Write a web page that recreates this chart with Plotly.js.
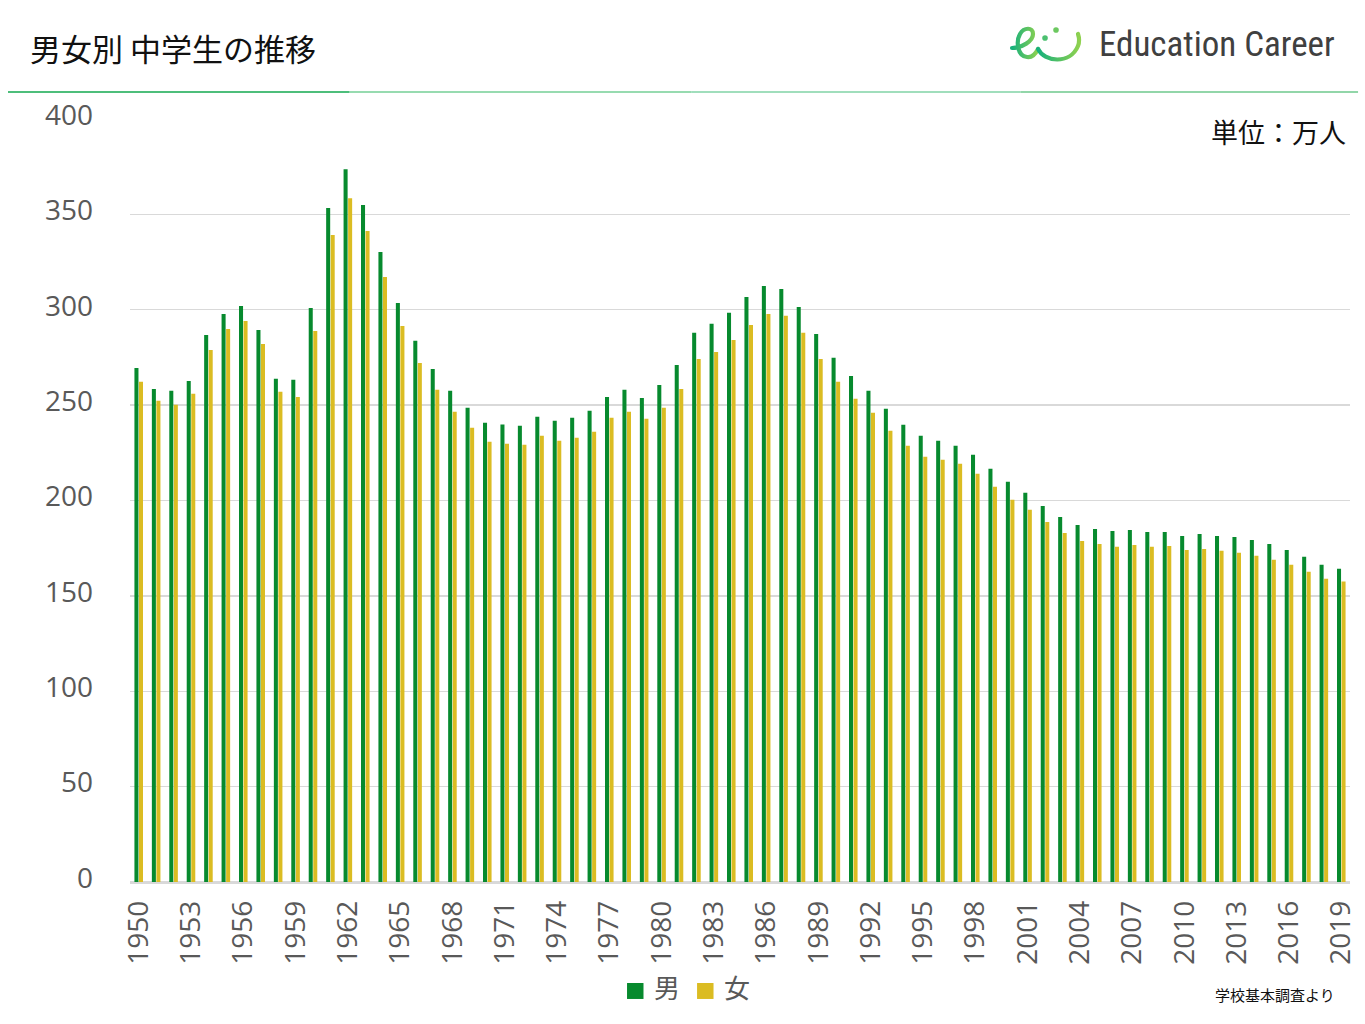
<!DOCTYPE html>
<html>
<head>
<meta charset="utf-8">
<script src="https://cdn.plot.ly/plotly-3.0.1.min.js"></script>
<style>
  html, body { margin: 0; padding: 0; background: #fff; }
  #myDiv { width: 1365px; height: 1024px; }
</style>
</head>
<body>
<div id="myDiv"></div>
<script>
// 文部科学省 学校基本調査 中学生数（万人）
var years = [];
for (var yr = 1950; yr <= 2019; yr++) years.push(String(yr));

var boys = [
  269.5, 258.5, 257.5, 262.7, 286.8, 297.8, 302.0, 289.4, 263.8, 263.3,
  300.9, 353.3, 373.7, 354.9, 330.3, 303.6, 283.7, 269.0, 257.5, 248.6,
  240.8, 239.8, 239.2, 243.9, 241.8, 243.4, 247.0, 254.3, 258.0, 253.8,
  260.6, 271.1, 287.9, 292.6, 298.4, 306.7, 312.5, 310.9, 301.5, 287.3,
  274.8, 265.3, 257.5, 248.1, 239.7, 233.9, 231.3, 228.7, 224.0, 216.7,
  209.8, 204.1, 197.1, 191.3, 187.1, 185.0, 184.0, 184.5, 183.5, 183.5,
  181.4, 182.4, 181.4, 180.9, 179.3, 177.2, 174.1, 170.5, 166.3, 164.2
];
var girls = [
  262.2, 252.3, 250.2, 255.9, 278.9, 289.9, 294.1, 282.1, 257.0, 254.3,
  288.9, 339.2, 358.5, 341.3, 317.2, 291.5, 272.1, 258.0, 246.5, 238.1,
  230.8, 229.8, 229.2, 234.0, 231.3, 232.9, 236.0, 243.4, 246.5, 242.8,
  248.6, 258.5, 274.2, 277.9, 284.2, 292.0, 297.8, 296.8, 287.9, 274.2,
  262.2, 253.3, 246.0, 236.6, 228.7, 222.9, 221.4, 219.3, 214.0, 207.2,
  200.4, 195.2, 188.7, 183.0, 178.8, 177.2, 175.7, 176.7, 175.7, 176.2,
  174.1, 174.6, 173.6, 172.6, 171.0, 168.9, 166.3, 162.7, 159.0, 157.5
];
var tickYears = years.filter(function (y, i) { return i % 3 === 0; });
var yTicks = [0, 50, 100, 150, 200, 250, 300, 350, 400];
var seriesNames = ['男', '女'];
var seriesColors = ['#078a2e', '#dbbc22'];

var jp = '"Noto Sans CJK JP", "Noto Sans", sans-serif';
var num = '"Open Sans", "Noto Sans", sans-serif';

var trace1 = {
  x: years,
  y: boys,
  name: seriesNames[0],
  type: 'bar',
  marker: { color: seriesColors[0] }
};
var trace2 = {
  x: years,
  y: girls,
  name: seriesNames[1],
  type: 'bar',
  marker: { color: seriesColors[1] }
};

// logo mark (inline svg, no network)
var logoSvg =
  '<svg xmlns="http://www.w3.org/2000/svg" width="78" height="40" viewBox="0 0 78 40">' +
  '<defs><linearGradient id="g" x1="0" y1="0" x2="1" y2="0">' +
  '<stop offset="0" stop-color="#16b07c"/><stop offset="1" stop-color="#8fd14f"/></linearGradient></defs>' +
  '<g fill="none" stroke="url(#g)" stroke-width="4.2" stroke-linecap="round">' +
  '<path d="M4 24 C14 24 25 17 25 10 C25 3 16 3 12 10 C8 17 9 32 19 33 C25 34 28 29 30 25"/>' +
  '<path d="M30 25 C36 38 62 41 70 22 C72 17 71 13 70 10"/>' +
  '</g>' +
  '<circle cx="37" cy="14" r="2.8" fill="#4cc070"/><circle cx="48" cy="6" r="2.8" fill="#6cc860"/>' +
  '</svg>';

// legend drawn by hand so the swatches can be as large as the original
var legendX = [0.4074, 0.4648];
var swatches = legendX.map(function (x0, i) {
  return {
    type: 'rect', xref: 'paper', yref: 'paper',
    x0: x0, x1: x0 + 0.0135, y0: -0.1533, y1: -0.1324,
    fillcolor: seriesColors[i], line: { width: 0 }
  };
});
var legendText = legendX.map(function (x0, i) {
  return {
    text: seriesNames[i], xref: 'paper', yref: 'paper',
    x: x0 + 0.0205, y: -0.1365, xanchor: 'left', yanchor: 'middle',
    showarrow: false,
    font: { family: jp, size: 26, color: '#595959' }
  };
});

var layout = {
  width: 1365,
  height: 1024,
  margin: { l: 130, r: 15, t: 119, b: 142 },
  paper_bgcolor: '#ffffff',
  plot_bgcolor: '#ffffff',
  barmode: 'group',
  bargap: 0.48,
  bargroupgap: 0.11,
  showlegend: false,
  xaxis: {
    type: 'category',
    tickmode: 'array',
    tickvals: tickYears,
    ticktext: tickYears,
    tickangle: -90,
    tickfont: { family: num, size: 28, color: '#595959' },
    ticklabelstandoff: 6,
    showgrid: false,
    showline: true,
    linecolor: '#d9d9d9',
    linewidth: 1.5,
    ticks: ''
  },
  yaxis: {
    range: [0, 400],
    tickmode: 'array',
    tickvals: yTicks,
    tickfont: { family: num, size: 28, color: '#595959' },
    ticklabelstandoff: 36,
    ticklabelshift: -4,
    showgrid: true,
    gridcolor: '#d9d9d9',
    gridwidth: 1.3,
    zeroline: true,
    zerolinecolor: '#d9d9d9',
    zerolinewidth: 1.5,
    ticks: ''
  },
  images: [{
    source: 'data:image/svg+xml;charset=utf-8,' + encodeURIComponent(logoSvg),
    xref: 'paper', yref: 'paper',
    x: 0.7197, y: 1.1245,
    sizex: 0.0639, sizey: 0.0524,
    xanchor: 'left', yanchor: 'top',
    sizing: 'stretch',
    layer: 'above'
  }],
  shapes: [
    { type: 'line', xref: 'paper', yref: 'paper', x0: -0.1, x1: 0.18, y0: 1.0354, y1: 1.0354, line: { color: '#12a84f', width: 1.5 } },
    { type: 'line', xref: 'paper', yref: 'paper', x0: 0.18, x1: 0.46, y0: 1.0354, y1: 1.0354, line: { color: '#74cf96', width: 1.5 } },
    { type: 'line', xref: 'paper', yref: 'paper', x0: 0.46, x1: 0.73, y0: 1.0354, y1: 1.0354, line: { color: '#80d3a6', width: 1.5 } },
    { type: 'line', xref: 'paper', yref: 'paper', x0: 0.73, x1: 1.0066, y0: 1.0354, y1: 1.0354, line: { color: '#6ec98c', width: 1.5 } }
  ].concat(swatches),
  annotations: [
    {
      text: '男女別 中学生の推移',
      xref: 'paper', yref: 'paper',
      x: -0.0836, y: 1.0935, xanchor: 'left', yanchor: 'middle',
      showarrow: false,
      font: { family: jp, size: 31, color: '#111111' }
    },
    {
      text: 'Education Career',
      xref: 'paper', yref: 'paper',
      x: 0.7926, y: 1.097, xanchor: 'left', yanchor: 'middle',
      showarrow: false,
      font: { family: '"Roboto Condensed", "DejaVu Sans Condensed", Roboto, sans-serif', size: 35, color: '#404040' }
    },
    {
      text: '単位：万人',
      xref: 'paper', yref: 'paper',
      x: 0.9984, y: 0.983, xanchor: 'right', yanchor: 'middle',
      showarrow: false,
      font: { family: jp, size: 27, color: '#111111' }
    },
    {
      text: '学校基本調査より',
      xref: 'paper', yref: 'paper',
      x: 0.9893, y: -0.148, xanchor: 'right', yanchor: 'middle',
      showarrow: false,
      font: { family: jp, size: 15, color: '#111111' }
    }
  ].concat(legendText)
};

Plotly.newPlot('myDiv', [trace1, trace2], layout, { displayModeBar: false, staticPlot: true });
</script>
</body>
</html>
